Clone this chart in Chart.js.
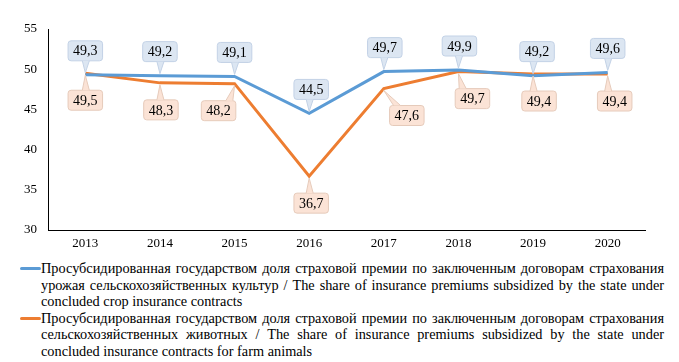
<!DOCTYPE html>
<html>
<head>
<meta charset="utf-8">
<script src="https://cdn.jsdelivr.net/npm/chart.js@4.4.1/dist/chart.umd.min.js"></script>
<style>
  body { margin: 0; background: #fff; font-family: "Times New Roman", "Liberation Serif", "DejaVu Serif", serif; }
  #wrap { position: relative; width: 679px; height: 362px; }
  #chart-box { position: absolute; left: 0; top: 0; width: 679px; height: 252px; }
  #legend { position: absolute; left: 20px; top: 260px; width: 644px; font-size: 14.3px; line-height: 16.6px; color: #000; }
  .item { position: relative; padding-left: 21px; text-align: justify; }
  .item span.sw { position: absolute; left: 0; top: 7px; width: 21px; height: 3px; border-radius: 2px; }
</style>
</head>
<body>
<div id="wrap">
  <div id="chart-box"><canvas id="share-chart"></canvas></div>
  <div id="legend"></div>
</div>
<script>
// данные
var years = ['2013', '2014', '2015', '2016', '2017', '2018', '2019', '2020'];
var cropShare = [49.3, 49.2, 49.1, 44.5, 49.7, 49.9, 49.2, 49.6];
var animalShare = [49.5, 48.3, 48.2, 36.7, 47.6, 49.7, 49.4, 49.4];
var yTicks = [30, 35, 40, 45, 50, 55];
var cropName = 'Просубсидированная государством доля страховой премии по заключенным договорам страхования урожая сельскохозяйственных культур / The share of insurance premiums subsidized by the state under concluded crop insurance contracts';
var animalName = 'Просубсидированная государством доля страховой премии по заключенным договорам страхования сельскохозяйственных животных / The share of insurance premiums subsidized by the state under concluded insurance contracts for farm animals';

// сдвиги подписей (px)
var cropLabelDx = [0, 0, 0, 2, 1, 1, 4, 0];
var animalLabelDx = [0, 1, -16, 2, 23, 14, 6, 7];

var FONT = '"Times New Roman", "Liberation Serif", serif';

var calloutPlugin = {
    id: 'callouts',
    afterDatasetsDraw: function (chart) {
        var ctx = chart.ctx;
        ctx.save();
        ctx.font = '14px ' + FONT;
        ctx.textAlign = 'center';
        ctx.textBaseline = 'middle';
        chart.data.datasets.forEach(function (ds, di) {
            var meta = chart.getDatasetMeta(di);
            meta.data.forEach(function (pt, i) {
                var txt = ds.data[i].toFixed(1).replace('.', ',');
                var w = ctx.measureText(txt).width + 10;
                var h = 20;
                var above = ds.labelSide === 'above';
                var cx = pt.x + ds.labelDx[i];
                var cy = above ? pt.y - 24 : pt.y + 27;
                var x0 = cx - w / 2, y0 = cy - h / 2;
                ctx.fillStyle = ds.boxFill;
                ctx.strokeStyle = ds.boxStroke;
                ctx.lineWidth = 1;
                ctx.beginPath();
                ctx.roundRect(x0, y0, w, h, 3);
                ctx.fill();
                ctx.stroke();
                // хвостик
                var ey = above ? y0 + h : y0;
                var bx = Math.max(x0 + 4, Math.min(x0 + w - 10, pt.x - 3));
                var tipY = pt.y + (above ? -2 : 2);
                ctx.beginPath();
                ctx.moveTo(bx, ey);
                ctx.lineTo(pt.x, tipY);
                ctx.lineTo(bx + 7, ey);
                ctx.closePath();
                ctx.fill();
                ctx.beginPath();
                ctx.moveTo(bx, ey);
                ctx.lineTo(pt.x, tipY);
                ctx.lineTo(bx + 7, ey);
                ctx.stroke();
                ctx.fillStyle = '#000';
                ctx.fillText(txt, cx, cy + 1);
            });
        });
        ctx.restore();
    }
};

var series = [
    { label: cropName, data: cropShare, color: '#5b9bd5', side: 'above', dx: cropLabelDx, fill: '#dce6f2', stroke: '#c3d2e6' },
    { label: animalName, data: animalShare, color: '#ed7d31', side: 'below', dx: animalLabelDx, fill: '#fbe3d6', stroke: '#e6cbbb' }
];

var datasets = series.map(function (s) {
    return {
        label: s.label,
        data: s.data,
        borderColor: s.color,
        backgroundColor: s.color,
        borderWidth: 3,
        pointRadius: 0,
        tension: 0,
        labelSide: s.side,
        labelDx: s.dx,
        boxFill: s.fill,
        boxStroke: s.stroke
    };
});

var legend = document.getElementById('legend');
series.forEach(function (s) {
    var d = document.createElement('div');
    d.className = 'item';
    d.innerHTML = '<span class="sw" style="background:' + s.color + '"></span>' + s.label;
    legend.appendChild(d);
});

var ctx = document.getElementById('share-chart').getContext('2d');
var myChart = new Chart(ctx, {
    type: 'line',
    data: { labels: years, datasets: datasets },
    plugins: [calloutPlugin],
    options: {
        responsive: true,
        maintainAspectRatio: false,
        animation: false,
        layout: { padding: { top: 29, right: 34, left: 0, bottom: 0 } },
        plugins: { legend: { display: false }, tooltip: { enabled: false } },
        scales: {
            x: {
                offset: true,
                grid: { display: false, drawTicks: false },
                border: { display: true, color: '#000', width: 1 },
                ticks: { color: '#000', padding: 6, maxRotation: 0, font: { family: FONT, size: 13 } },
                afterFit: function (s) { s.height = 22; }
            },
            y: {
                min: 30,
                max: 55,
                afterBuildTicks: function (s) { s.ticks = yTicks.map(function (v) { return { value: v }; }); },
                grid: { display: false, drawTicks: false },
                border: { display: true, color: '#000', width: 1 },
                ticks: { color: '#000', padding: 11, font: { family: FONT, size: 13 } },
                afterFit: function (s) { s.width = 48; }
            }
        }
    }
});
</script>
</body>
</html>
